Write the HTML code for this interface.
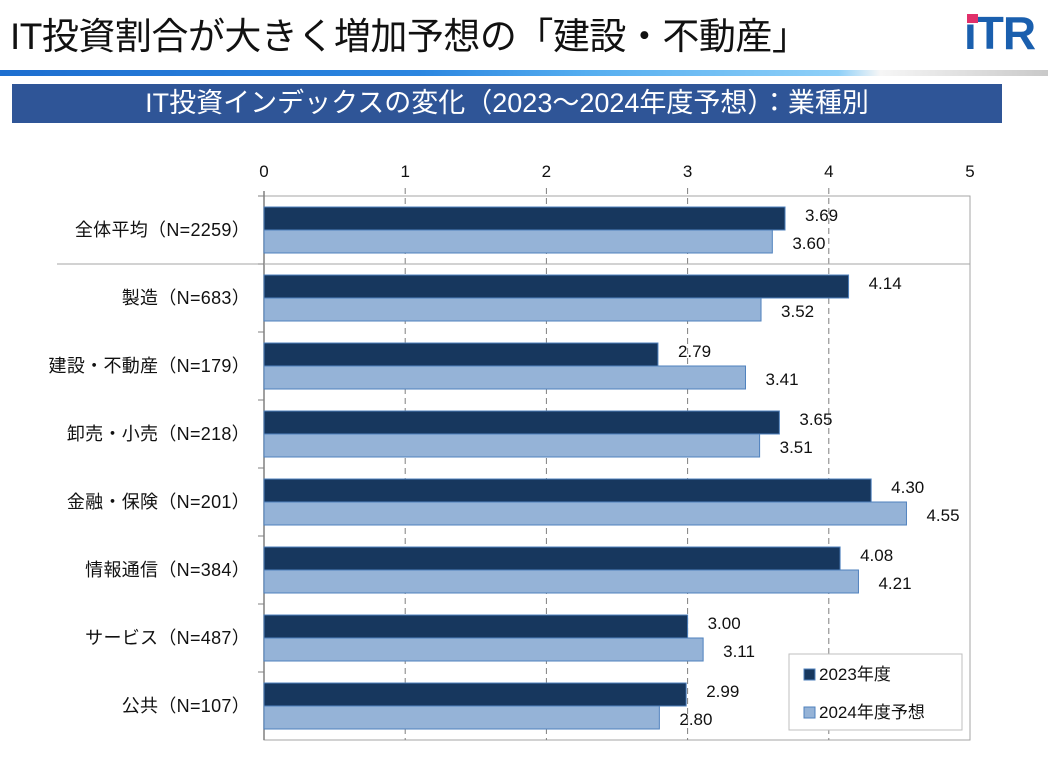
<!DOCTYPE html>
<html><head><meta charset="utf-8"><style>
body{margin:0;width:1048px;height:759px;background:#fff;overflow:hidden;font-family:"Liberation Sans","Noto Sans CJK JP",sans-serif;position:relative}
.t{position:absolute;left:10px;top:6px;font-size:37px;color:#111;white-space:nowrap;letter-spacing:-0.5px}
.band{position:absolute;left:0;top:70px;height:6px;width:1048px;background:linear-gradient(90deg,#1e6fd0 0%,#2b86e0 40%,#55aef0 56%,#8fd0f8 80%,#f6f6f6 84%,#c9c9c9 100%)}
.ban{position:absolute;left:12px;top:84px;width:990px;height:39px;background:#2f5597;color:#fff;font-size:27px;text-align:center;line-height:39px;white-space:nowrap}
.logo{position:absolute;left:964px;top:6px;font-size:46px;font-weight:bold;color:#1a5fae;letter-spacing:-1px}
</style></head><body>
<div class="t">IT投資割合が大きく増加予想の「建設・不動産」</div>
<div class="logo">iTR</div>
<div style="position:absolute;left:967px;top:14px;width:11px;height:9px;background:#e0306a"></div>
<div class="band"></div>
<div class="ban">IT投資インデックスの変化（2023～2024年度予想）：業種別</div>
<svg id="ch" width="1048" height="759" style="position:absolute;left:0;top:0"></svg>
<script>
const categories=["全体平均（N=2259）","製造（N=683）","建設・不動産（N=179）","卸売・小売（N=218）","金融・保険（N=201）","情報通信（N=384）","サービス（N=487）","公共（N=107）"];
const v2023=[3.69,4.14,2.79,3.65,4.30,4.08,3.00,2.99];
const v2024=[3.60,3.52,3.41,3.51,4.55,4.21,3.11,2.80];
const ticks=[0,1,2,3,4,5];
const NS="http://www.w3.org/2000/svg";
const svg=document.getElementById('ch');
const X0=264,X1=970,Y0=196,Y1=740;
const x=v=>X0+(X1-X0)*v/5;
const band=(Y1-Y0)/categories.length;
const yc=i=>Y0+band*(i+0.5);
function mk(t,a,p){const e=document.createElementNS(NS,t);for(const k in a)e.setAttribute(k,a[k]);(p||svg).appendChild(e);return e;}
let r=mk('rect',{x:X0,y:Y0,width:X1-X0,height:Y1-Y0,fill:'#fff',stroke:'#a6a6a6'});


ticks.forEach(t=>{
  if(t>0&&t<5){let g=mk('line',{x1:x(t),x2:x(t),y1:Y0-8,y2:Y1,stroke:'#7f7f7f','stroke-dasharray':'6,4'});
  
  }
  let tl=mk('text',{x:x(t),y:177,'text-anchor':'middle','font-size':17,fill:'#111'});tl.textContent=t;
  
  
});
mk('line',{x1:X0,x2:X0,y1:Y0-5,y2:Y1,stroke:'#808080','stroke-width':1.5});
let sep=mk('line',{x1:57,x2:X1,y1:Y0+band,y2:Y0+band,stroke:'#a6a6a6'});


categories.forEach((c,i)=>{
  const cy=yc(i);
  mk('line',{x1:X0-6,x2:X0,y1:Y0+band*i,y2:Y0+band*i,stroke:'#808080'});
  let l=mk('text',{x:250,y:cy+6,'text-anchor':'end','font-size':18,fill:'#111','letter-spacing':0.3});l.textContent=c;
  
  
  let b1=mk('rect',{x:X0,y:cy-23,width:x(v2023[i])-X0,height:23,fill:'#17375e',stroke:'#4f81bd','stroke-width':1});
  
  
  let b2=mk('rect',{x:X0,y:cy,width:x(v2024[i])-X0,height:23,fill:'#95b3d7',stroke:'#4f81bd','stroke-width':1});
  
  
  let t1=mk('text',{x:x(v2023[i])+20,y:cy-9,'font-size':17,fill:'#111'});t1.textContent=v2023[i].toFixed(2);
  
  
  let t2=mk('text',{x:x(v2024[i])+20,y:cy+19,'font-size':17,fill:'#111'});t2.textContent=v2024[i].toFixed(2);
  
  
});
let lg=mk('g',{});


mk('rect',{x:789,y:654,width:173,height:76,fill:'#fff',stroke:'#bfbfbf'},lg);
mk('rect',{x:804,y:669,width:11,height:11,fill:'#17375e',stroke:'#4f81bd'},lg);
let a=mk('text',{x:819,y:680,'font-size':17,fill:'#111'},lg);a.textContent='2023年度';


mk('rect',{x:804,y:707,width:11,height:11,fill:'#95b3d7',stroke:'#4f81bd'},lg);
let b=mk('text',{x:819,y:718,'font-size':17,fill:'#111'},lg);b.textContent='2024年度予想';


</script>
</body></html>
